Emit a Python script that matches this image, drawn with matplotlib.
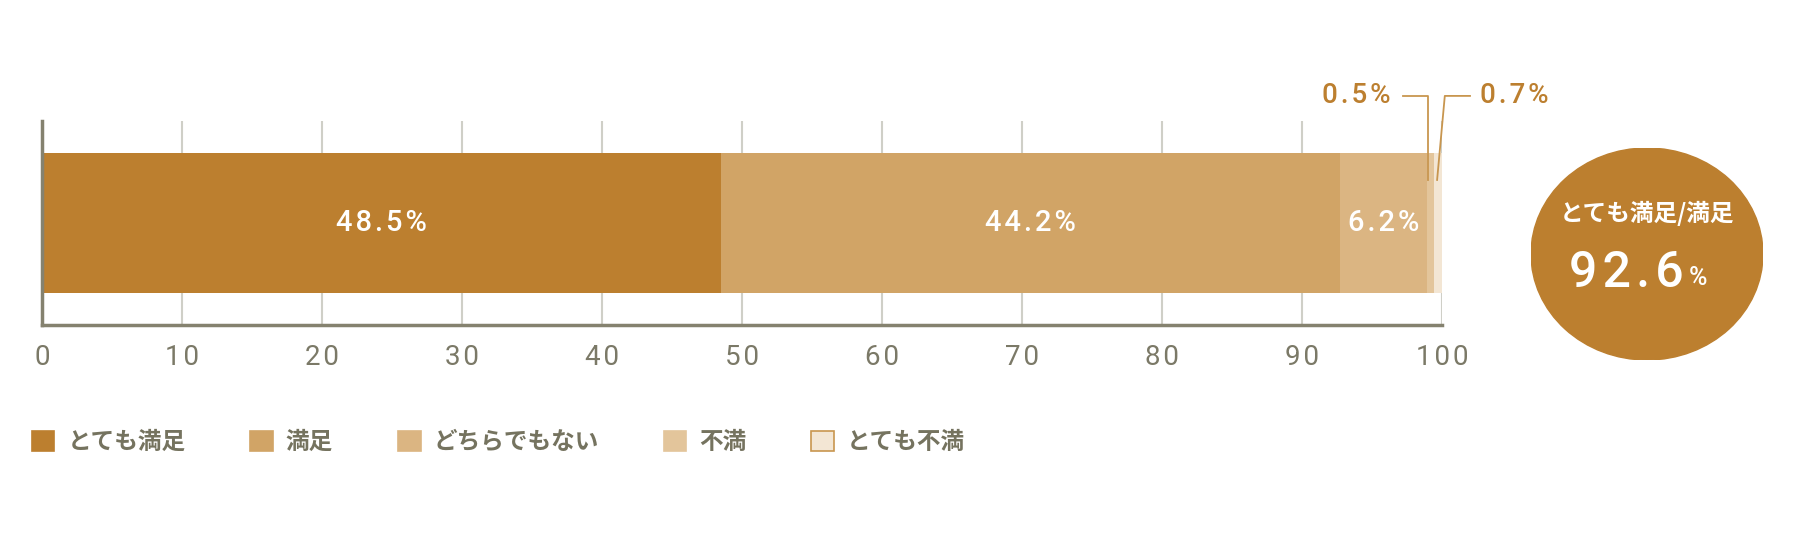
import matplotlib
matplotlib.use('Agg')
import matplotlib.pyplot as plt
from matplotlib.patches import Ellipse, Patch

# data
categories = ['とても満足', '満足', 'どちらでもない', '不満', 'とても不満']
values = [48.5, 44.2, 6.2, 0.5, 0.7]
colors = ['#BC7F2F', '#D1A466', '#DBB582', '#E3C59B', '#F3E6D4']
xticks = [0, 10, 20, 30, 40, 50, 60, 70, 80, 90, 100]
total_label = 'とても満足/満足'
total_value = '92.6'

FONT = ['Roboto', 'DejaVu Sans', 'Noto Sans CJK JP']
JP = ['Noto Sans CJK JP', 'DejaVu Sans']
plt.rcParams['font.family'] = FONT

gray = '#7B7967'
accent = '#BC7F2F'
HAIR = '\u200a'


def spaced(s, sep=HAIR):
    return sep.join(s)


fig = plt.figure(figsize=(18, 5.5), dpi=100)
ax = fig.add_axes([42/1800, 1-325/550, 1400/1800, 204/550])

left = 0
lefts = []
for v, c in zip(values, colors):
    ax.barh(0.5, v, left=left, height=0.686, color=c, zorder=2)
    lefts.append(left)
    left += v

# labels inside bar for large segments
for v, l in zip(values[:3], lefts[:3]):
    ax.text(l + v/2, 0.5, spaced(f'{v}%'), color='white', fontsize=21, ha='center',
            va='center', zorder=3, weight='medium')

# callouts for small segments
lc = '#C8964F'
l4, v4 = lefts[3], values[3]
ax.plot([97.2, l4 + 0.1, l4 + 0.1], [1.123, 1.123, 0.711], color=lc, lw=1.3,
        clip_on=False, zorder=3)
ax.text(96.3, 1.123, spaced(f'{v4}%'), color=accent, fontsize=20, ha='right',
        va='center', weight='medium')
l5, v5 = lefts[4], values[4]
ax.plot([102.0, 100.2, l5 + 0.25], [1.123, 1.123, 0.711], color=lc, lw=1.3,
        clip_on=False, zorder=3)
ax.text(102.7, 1.123, spaced(f'{v5}%'), color=accent, fontsize=20, ha='left',
        va='center', weight='medium')

ax.set_xlim(0, 100)
ax.set_ylim(0, 1)
ax.set_xticks(xticks)
ax.set_xticklabels([spaced(str(t)) for t in xticks])
ax.set_yticks([])
ax.tick_params(axis='x', length=0, pad=14, labelsize=20, labelcolor=gray)
for t in xticks[1:]:
    ax.axvline(t, color='#CFCFC7', lw=1.5, zorder=1)
for s in ['top', 'right']:
    ax.spines[s].set_visible(False)
for s in ['left', 'bottom']:
    ax.spines[s].set_color('#85826F')
    ax.spines[s].set_linewidth(2.5)
    ax.spines[s].set_zorder(4)

# summary badge
cax = fig.add_axes([1531/1800, 190/550, 232/1800, 212/550])
cax.set_xlim(0, 1)
cax.set_ylim(0, 1)
cax.axis('off')
cax.add_patch(Ellipse((0.5, 0.5), 1, 1, color=accent))
cax.text(0.5, 0.693, total_label, color='white', fontsize=17, ha='center',
         va='center', family=JP, weight='bold')
cax.text(0.66, 0.41, spaced(total_value), color='white', fontsize=36, ha='right',
         va='center', weight='medium')
cax.text(0.68, 0.385, '%', color='white', fontsize=18, ha='left',
         va='center', weight='medium')

# legend
handles = []
for i, (c, name) in enumerate(zip(colors, categories)):
    ec = lc if i == len(colors) - 1 else c
    handles.append(Patch(facecolor=c, edgecolor=ec, linewidth=1.2, label=name))
leg = fig.legend(handles=handles, loc='center left', bbox_to_anchor=(32/1800, 1-442/550),
                 ncol=5, frameon=False, borderpad=0, borderaxespad=0,
                 handlelength=0.95, handleheight=0.95, handletextpad=0.55,
                 columnspacing=2.75, prop={'family': JP, 'size': 17, 'weight': 'bold'})
for t in leg.get_texts():
    t.set_color('#75735F')

fig.savefig('out.png', dpi=100)
